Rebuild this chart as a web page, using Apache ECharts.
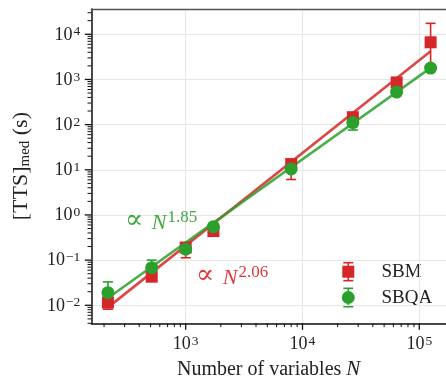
<!DOCTYPE html>
<html><head><meta charset="utf-8">
<script src="https://cdn.jsdelivr.net/npm/echarts@6/dist/echarts.min.js"></script>
<style>html,body{margin:0;padding:0;background:#fff}#c{width:446px;height:379px}</style>
</head><body><div id="c"></div>
<script>
// ---- data ----
const N = [216, 512, 1000, 1728, 8000, 27000, 64000, 125000];
const sbm     = [0.0115, 0.043, 0.19, 0.44, 13.4, 146, 860, 6650];
const sbmLow  = [0.0082, 0.036, 0.113, 0.38, 6.1, 120, 720, 2000];
const sbmHigh = [0.014, 0.050, 0.23, 0.50, 16, 175, 1000, 17500];
const sbqa     = [0.019, 0.068, 0.175, 0.55, 10.4, 111, 526, 1790];
const sbqaLow  = [0.016, 0.058, 0.15, 0.48, 9, 76, 460, 1550];
const sbqaHigh = [0.033, 0.100, 0.20, 0.62, 12, 130, 600, 2100];
const fitN = [216, 125000];
const sbmFit = [0.0090, 4200];
const sbqaFit = [0.0145, 1800];
const xMajorTicks = [1e3, 1e4, 1e5];
const yMajorTicks = [1e-2, 1e-1, 1e0, 1e1, 1e2, 1e3, 1e4];
const xRange = [155.6, 169300];
const yRange = [0.003995, 36300];

const RED = '#d62728', GREEN = '#2ca02c';
const SERIF = '"Liberation Serif","DejaVu Serif",serif';
const MATH = '"DejaVu Serif",serif';

function minorTicks(lo, hi) {
  const out = [];
  for (let k = Math.floor(Math.log10(lo)); k <= Math.ceil(Math.log10(hi)); k++) {
    for (let m = 2; m <= 9; m++) {
      const v = m * Math.pow(10, k);
      if (v >= lo && v <= hi) out.push(v);
    }
  }
  return out;
}
const tickData = [];
xMajorTicks.forEach(v => tickData.push([v, yRange[0], 0]));
minorTicks(xRange[0], xRange[1]).forEach(v => tickData.push([v, yRange[0], 1]));
yMajorTicks.forEach(v => tickData.push([xRange[0], v, 2]));
minorTicks(yRange[0], yRange[1]).forEach(v => tickData.push([xRange[0], v, 3]));

function powLabel(v) {
  const e = Math.round(Math.log10(v));
  if (Math.abs(Math.log10(v) - e) > 1e-6) return '';
  const s = e < 0 ? '\u2212' + (-e) : '' + e;
  return '{b|10}{s|' + s + '}';
}
const supRich = {
  b: {fontFamily: SERIF, fontSize: 18, lineHeight: 19, verticalAlign: 'bottom', color: '#222'},
  s: {fontFamily: SERIF, fontSize: 13.5, lineHeight: 10, verticalAlign: 'top', padding: [0, 0, 0, 1], color: '#222'}
};

function errRender(color) {
  return function (params, api) {
    const x = api.value(0);
    const lo = api.coord([x, api.value(1)]);
    const hi = api.coord([x, api.value(2)]);
    const st = {stroke: color, lineWidth: 1.6};
    return {type: 'group', children: [
      {type: 'line', shape: {x1: lo[0], y1: lo[1], x2: hi[0], y2: hi[1]}, style: st},
      {type: 'line', shape: {x1: lo[0] - 5, y1: lo[1], x2: lo[0] + 5, y2: lo[1]}, style: st},
      {type: 'line', shape: {x1: hi[0] - 5, y1: hi[1], x2: hi[0] + 5, y2: hi[1]}, style: st}
    ]};
  };
}

function annRich(color) {
  return {
    a: {fontFamily: MATH, fontSize: 27, lineHeight: 17, verticalAlign: 'bottom', fill: color},
    i: {fontFamily: SERIF, fontSize: 22, fontStyle: 'italic', lineHeight: 25, verticalAlign: 'bottom', fill: color},
    s: {fontFamily: SERIF, fontSize: 17, lineHeight: 8, verticalAlign: 'top', padding: [0, 0, 0, 1], fill: color}
  };
}

const chart = echarts.init(document.getElementById('c'), null, {renderer: 'canvas'});
const option = {
  animation: false,
  backgroundColor: '#fff',
  grid: {left: 91.3, top: 9, right: 0, bottom: 55.7, containLabel: false, outerBoundsMode: 'none'},
  xAxis: [{
    type: 'log', min: xRange[0], max: xRange[1],
    axisLine: {show: true, onZero: false, lineStyle: {color: '#111', width: 1.5}},
    axisTick: {show: false}, minorTick: {show: false},
    splitLine: {show: true, lineStyle: {color: '#e6e6e6', width: 1}},
    axisLabel: {showMinLabel: false, showMaxLabel: false, margin: 11, formatter: powLabel, rich: supRich},
    name: '{t|Number of variables }{i|N}', nameLocation: 'middle', nameGap: 36,
    nameTextStyle: {rich: {
      t: {fontFamily: SERIF, fontSize: 20, color: '#222'},
      i: {fontFamily: SERIF, fontSize: 21, fontStyle: 'italic', color: '#222'}
    }}
  }, {
    type: 'log', position: 'top', min: xRange[0], max: xRange[1],
    axisLine: {show: true, onZero: false, lineStyle: {color: '#555', width: 1.3}},
    axisTick: {show: false}, axisLabel: {show: false}, splitLine: {show: false}
  }],
  yAxis: {
    type: 'log', min: yRange[0], max: yRange[1],
    axisLine: {show: true, onZero: false, lineStyle: {color: '#111', width: 1.5}},
    axisTick: {show: false}, minorTick: {show: false},
    splitLine: {show: true, lineStyle: {color: '#e6e6e6', width: 1}},
    axisLabel: {showMinLabel: false, showMaxLabel: false, margin: 11, formatter: powLabel, rich: supRich},
    name: '{t|[TTS]}{s|med}{t| (s)}', nameLocation: 'middle', nameGap: 59, nameRotate: 90,
    nameTextStyle: {rich: {
      t: {fontFamily: SERIF, fontSize: 22, lineHeight: 22, verticalAlign: 'top', color: '#222'},
      s: {fontFamily: SERIF, fontSize: 15, lineHeight: 15, verticalAlign: 'bottom', padding: [9, 0, 0, 0], color: '#222'}
    }}
  },
  series: [
    {type: 'custom', name: 'ticks', clip: false, silent: true, z: 10,
     data: tickData, encode: {x: 0, y: 1},
     renderItem: function (params, api) {
       const p = api.coord([api.value(0), api.value(1)]);
       const k = api.value(2);
       const L = (k === 0 || k === 2) ? 6.5 : 3.8;
       const shape = k < 2 ? {x1: p[0], y1: p[1], x2: p[0], y2: p[1] + L}
                           : {x1: p[0] - L, y1: p[1], x2: p[0], y2: p[1]};
       return {type: 'line', shape: shape, style: {stroke: '#111', lineWidth: (k === 0 || k === 2) ? 1.3 : 1}};
     }},
    {type: 'line', name: 'SBM fit', data: fitN.map((n, i) => [n, sbmFit[i]]), symbol: 'none',
     lineStyle: {color: RED, width: 2.6, opacity: 0.85}, z: 2, silent: true},
    {type: 'line', name: 'SBQA fit', data: fitN.map((n, i) => [n, sbqaFit[i]]), symbol: 'none',
     lineStyle: {color: GREEN, width: 2.6, opacity: 0.85}, z: 2, silent: true},
    {type: 'custom', name: 'SBM err', clip: false, z: 3,
     data: N.map((n, i) => [n, sbmLow[i], sbmHigh[i]]), encode: {x: 0, y: [1, 2]},
     renderItem: errRender(RED)},
    {type: 'scatter', name: 'SBM', data: N.map((n, i) => [n, sbm[i]]), symbol: 'rect', symbolSize: 12,
     itemStyle: {color: RED, opacity: 1}, z: 3},
    {type: 'custom', name: 'SBQA err', clip: false, z: 4,
     data: N.map((n, i) => [n, sbqaLow[i], sbqaHigh[i]]), encode: {x: 0, y: [1, 2]},
     renderItem: errRender(GREEN)},
    {type: 'scatter', name: 'SBQA', data: N.map((n, i) => [n, sbqa[i]]), symbol: 'circle', symbolSize: 13,
     itemStyle: {color: GREEN, opacity: 1}, z: 4}
  ],
  graphic: [
    {type: 'text', x: 125, y: 222, z: 20, style: {
      text: '{a|\u221D }{i|N}{s|1.85}', verticalAlign: 'middle', align: 'left', opacity: 0.9,
      rich: annRich(GREEN)}},
    {type: 'text', x: 196, y: 277, z: 20, style: {
      text: '{a|\u221D }{i|N}{s|2.06}', verticalAlign: 'middle', align: 'left', opacity: 0.9,
      rich: annRich(RED)}},
    // legend
    {type: 'group', z: 20, children: [
      {type: 'line', shape: {x1: 348.3, y1: 262.7, x2: 348.3, y2: 280.7}, style: {stroke: RED, lineWidth: 1.6}},
      {type: 'line', shape: {x1: 343.3, y1: 262.7, x2: 353.3, y2: 262.7}, style: {stroke: RED, lineWidth: 1.6}},
      {type: 'line', shape: {x1: 343.3, y1: 280.7, x2: 353.3, y2: 280.7}, style: {stroke: RED, lineWidth: 1.6}},
      {type: 'rect', shape: {x: 342.3, y: 265.7, width: 12, height: 12}, style: {fill: RED}},
      {type: 'text', x: 381.5, y: 272, style: {text: 'SBM', fontFamily: SERIF, fontSize: 19, fill: '#222', verticalAlign: 'middle'}},
      {type: 'line', shape: {x1: 348.3, y1: 288.3, x2: 348.3, y2: 306.7}, style: {stroke: GREEN, lineWidth: 1.6}},
      {type: 'line', shape: {x1: 343.3, y1: 288.3, x2: 353.3, y2: 288.3}, style: {stroke: GREEN, lineWidth: 1.6}},
      {type: 'line', shape: {x1: 343.3, y1: 306.7, x2: 353.3, y2: 306.7}, style: {stroke: GREEN, lineWidth: 1.6}},
      {type: 'circle', shape: {cx: 348.3, cy: 297.5, r: 6.5}, style: {fill: GREEN}},
      {type: 'text', x: 381.5, y: 298, style: {text: 'SBQA', fontFamily: SERIF, fontSize: 19, fill: '#222', verticalAlign: 'middle'}}
    ]}
  ]
};
chart.setOption(option);
</script>
</body></html>
